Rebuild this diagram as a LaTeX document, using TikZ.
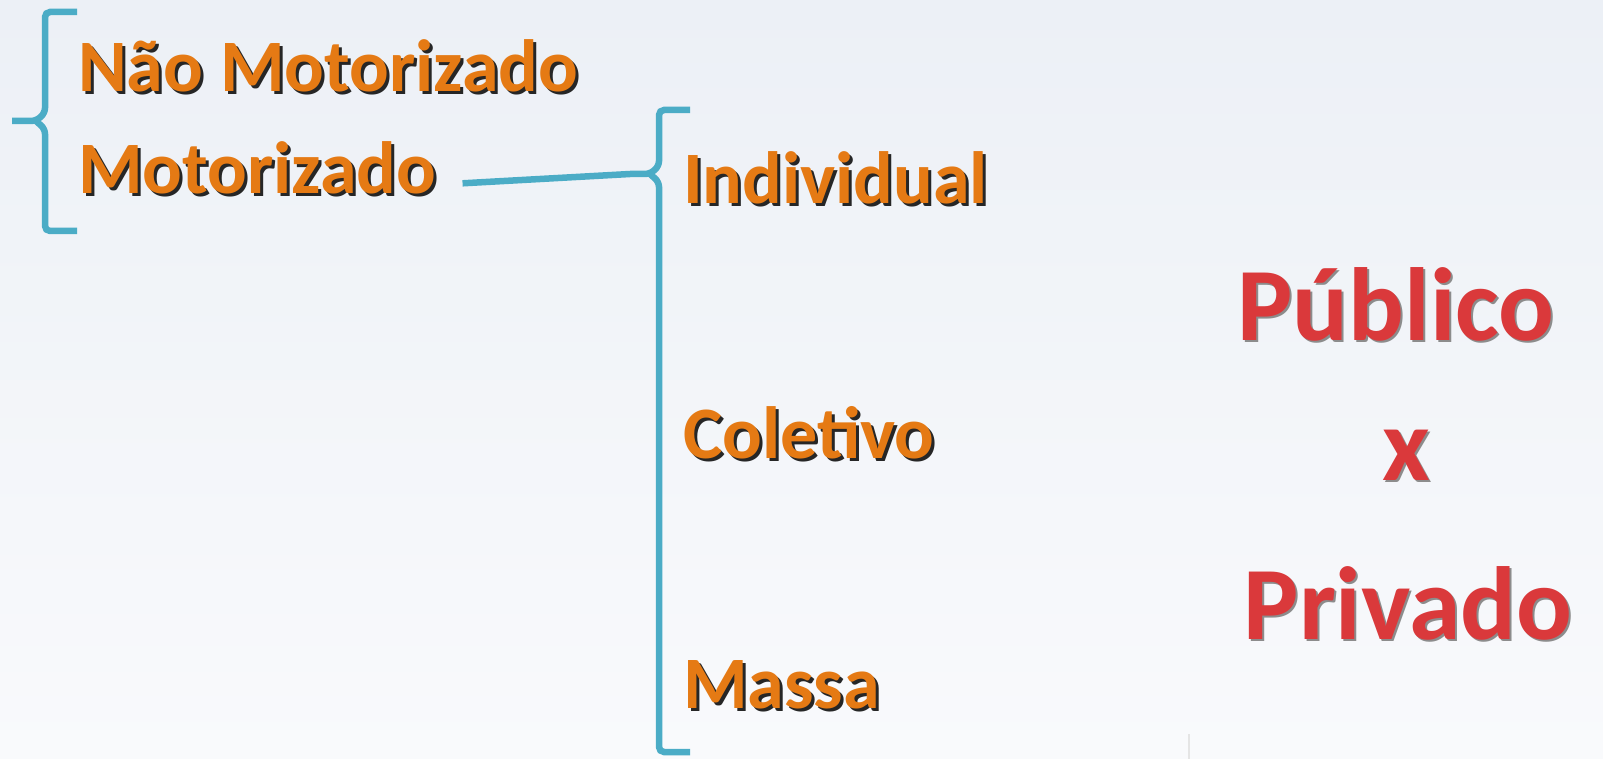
\documentclass[tikz,border=0pt]{standalone}
\usepackage{fontspec}
\setmainfont{Carlito}
\usetikzlibrary{positioning}
\definecolor{bracecol}{HTML}{4BACC6}
\definecolor{modocol}{HTML}{E57A14}
\definecolor{tipocol}{HTML}{DA393B}
\tikzset{
  brace/.style={draw=bracecol,line width=6.5pt,rounded corners=5pt},
  modo/.style={font=\fontsize{74}{80}\selectfont\bfseries,text=modocol,inner sep=0pt,anchor=base west},
  modo sombra/.style={modo,text=black!85,xshift=3pt,yshift=-3pt},
  tipo/.style={font=\fontsize{104}{110}\selectfont\bfseries,text=tipocol,inner sep=0pt,anchor=base},
  tipo sombra/.style={tipo,text=black!45,xshift=2pt,yshift=-2pt},
}
\newcommand{\modo}[3]{\node[modo sombra] at (#1) {#2}; \node[modo] (#3) at (#1) {#2}}
\newcommand{\tipo}[3]{\node[tipo sombra] at (#1) {#2}; \node[tipo] (#3) at (#1) {#2}}

\begin{document}
\begin{tikzpicture}[x=1pt,y=-1pt]
  \shade[top color={rgb,255:red,236;green,240;blue,246},bottom color={rgb,255:red,249;green,250;blue,252}]
    (0,0) rectangle (1603,759);
  \useasboundingbox (0,0) rectangle (1603,759);

  % first level
  \modo{78,92}{Não Motorizado}{nmot};
  \modo{78,194}{Motorizado}{mot};
  \draw[brace] (77,12) -- (45,12) -- (45,113) -- (36,121) -- (12,121);
  \draw[brace] (36,121) -- (45,129) -- (45,231) -- (77,231);

  % second level
  \modo{683,204}{Individual}{ind};
  \modo{683,458}{Coletivo}{col};
  \modo{683,708}{Massa}{mas};
  \coordinate (notchB) at (630,174);
  \draw[brace] (690,110) -- (659,110) -- (659,166) -- (650,174) -- (notchB);
  \draw[brace] (650,174) -- (659,182) -- (659,752) -- (690,752);
  \draw[brace] ([xshift=26pt,yshift=-15pt]mot.east) -- (notchB);

  % publico x privado
  \tipo{1396,340}{Público}{pub};
  \tipo{1406,480}{x}{vs};
  \tipo{1408,639}{Privado}{priv};

  \draw[gray!20,line width=2pt] (1189,734) -- (1189,759);
\end{tikzpicture}
\end{document}
